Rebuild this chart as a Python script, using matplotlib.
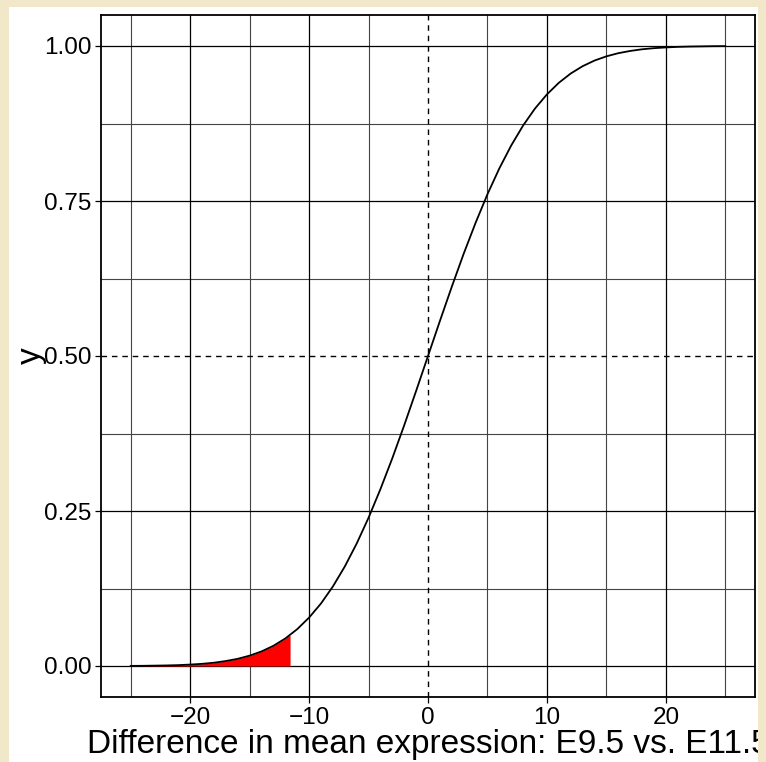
import matplotlib
matplotlib.use("Agg")
import matplotlib.pyplot as plt
from matplotlib.patches import Rectangle

plt.rcParams['font.family'] = ['Liberation Sans', 'DejaVu Sans']

# Curve values (cumulative curve)
curve_x = list(range(-25, 26))
curve_left = [0.0002, 0.0003, 0.0006, 0.0009, 0.0014, 0.0023, 0.0035, 0.0053,
              0.0080, 0.0116, 0.0167, 0.0235, 0.0326, 0.0444, 0.0594, 0.0781,
              0.1008, 0.1282, 0.1604, 0.1974, 0.2391, 0.2853, 0.3351, 0.3883,
              0.4436]
curve_y = curve_left + [0.5] + [round(1 - v, 4) for v in curve_left[::-1]]

# Shaded lower tail (red)
shade_x = list(range(-25, -11)) + [-11.6]
shade_y = curve_left[:14] + [0.050]

x_ticks = [-20, -10, 0, 10, 20]
x_minor = [-25, -15, -5, 5, 15, 25]
y_ticks = [0.00, 0.25, 0.50, 0.75, 1.00]
y_tick_labels = ["0.00", "0.25", "0.50", "0.75", "1.00"]
y_minor = [0.125, 0.375, 0.625, 0.875]
ref_x = 0
ref_y = 0.5
x_label = "Difference in mean expression: E9.5 vs. E11.5"
y_label = "y"

W, H = 766, 762
fig = plt.figure(figsize=(W / 100, H / 100), dpi=100)
parch = '#F1E8C9'
fig.patch.set_facecolor(parch)
fig.patches.append(Rectangle((9 / W, 0), (758 - 9) / W, (H - 7) / H,
                             transform=fig.transFigure, facecolor='white',
                             edgecolor='none', zorder=-5))

ax = fig.add_axes([101 / W, (H - 697) / H, (755 - 101) / W, (697 - 15) / H])
ax.set_zorder(1)
ax.set_facecolor('white')
ax.set_xlim(-27.5, 27.5)
ax.set_ylim(-0.05, 1.05)

for v in x_minor:
    ax.axvline(v, color='#444444', lw=0.8, zorder=1)
for v in y_minor:
    ax.axhline(v, color='#444444', lw=0.8, zorder=1)
for v in x_ticks:
    if v != ref_x:
        ax.axvline(v, color='black', lw=0.9, zorder=1)
for v in y_ticks:
    if v != ref_y:
        ax.axhline(v, color='black', lw=0.9, zorder=1)

ax.fill_between(shade_x, 0, shade_y, color='red', lw=0, zorder=2)
ax.plot(curve_x, curve_y, color='black', lw=1.3, zorder=3)

ax.axvline(ref_x, color='black', lw=1.0, dashes=(4, 3.5), zorder=2.5)
ax.axhline(ref_y, color='black', lw=1.0, dashes=(4, 3.5), zorder=2.5)

ax.set_xticks(x_ticks)
ax.set_xticklabels(["\u2212" + str(abs(t)) if t < 0 else str(t) for t in x_ticks])
ax.set_yticks(y_ticks)
ax.set_yticklabels(y_tick_labels)
ax.tick_params(axis='both', length=4, width=0.9, color='black',
               labelsize=17.5, labelcolor='black', pad=3)
for s in ax.spines.values():
    s.set_linewidth(1.3)
    s.set_color('black')

fig.text(428 / W, 1 - 753 / H, x_label, ha='center', va='baseline',
         fontsize=24, color='black', zorder=3)
fig.text(31 / W, 1 - 356 / H, y_label, ha='center', va='center',
         rotation=90, fontsize=24, color='black', zorder=3)

# parchment edges over the clipped text (as in the reference)
fig.patches.append(Rectangle((758 / W, 0), 1, 1, transform=fig.transFigure,
                             facecolor=parch, edgecolor='none', zorder=10))
fig.patches.append(Rectangle((0, 0), 9 / W, 1, transform=fig.transFigure,
                             facecolor=parch, edgecolor='none', zorder=10))
fig.patches.append(Rectangle((0, 1 - 7 / H), 1, 1, transform=fig.transFigure,
                             facecolor=parch, edgecolor='none', zorder=10))

fig.savefig('out.png', dpi=100, facecolor=parch)
